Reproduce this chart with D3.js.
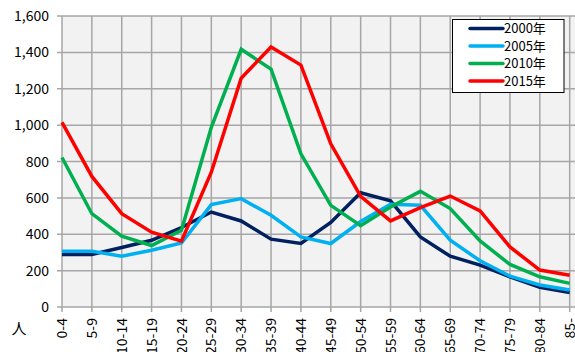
<!DOCTYPE html>
<html>
<head>
<meta charset="utf-8">
<script src="https://cdn.jsdelivr.net/npm/d3@7"></script>
<style>
  html, body { margin: 0; padding: 0; background: #fff; }
  svg { display: block; }
  text { font-family: "Noto Sans CJK JP", "DejaVu Sans", sans-serif; fill: #000; }
</style>
</head>
<body>
<svg id="chart" width="575" height="352"></svg>
<script>
// Age groups along the horizontal axis
const categories = ["0-4","5-9","10-14","15-19","20-24","25-29","30-34","35-39","40-44",
  "45-49","50-54","55-59","60-64","65-69","70-74","75-79","80-84","85-"];

// Population by age group (persons) for each census year
const v2000 = [289, 289, 327, 367, 437, 522, 473, 373, 349, 465, 628, 584, 385, 279, 230, 166, 108, 80];
const v2005 = [307, 307, 279, 312, 352, 563, 596, 504, 385, 349, 470, 565, 559, 367, 254, 170, 121, 93];
const v2010 = [822, 513, 389, 338, 422, 988, 1417, 1308, 842, 559, 447, 550, 636, 541, 363, 234, 166, 130];
const v2015 = [1015, 718, 513, 411, 362, 741, 1258, 1430, 1330, 897, 608, 473, 546, 610, 528, 330, 203, 175];

const seriesNames = ["2000年", "2005年", "2010年", "2015年"];
const seriesColors = ["#002060", "#00b0f0", "#00b050", "#ff0000"];
const seriesValues = [v2000, v2005, v2010, v2015];

const yTicks = [0, 200, 400, 600, 800, 1000, 1200, 1400, 1600];

const svg = d3.select("#chart");
const plotL = 62, plotR = 569.7, plotT = 16, plotB = 307;

const x = d3.scalePoint().domain(categories).range([plotL, plotR]);
const y = d3.scaleLinear().domain([0, 1600]).range([plotB, plotT]);

// plot background
svg.append("rect")
  .attr("x", plotL).attr("y", plotT)
  .attr("width", 575 - plotL).attr("height", plotB - plotT)
  .attr("fill", "#f2f2f2");

const gridColor = "#a6a6a6";

// horizontal gridlines with short ticks to the left
svg.append("g").selectAll("line").data(yTicks).join("line")
  .attr("x1", plotL - 5).attr("x2", 575)
  .attr("y1", d => y(d)).attr("y2", d => y(d))
  .attr("stroke", gridColor).attr("stroke-width", 1.5);

// vertical gridlines with short ticks below
svg.append("g").selectAll("line").data(categories).join("line")
  .attr("x1", d => x(d)).attr("x2", d => x(d))
  .attr("y1", plotT).attr("y2", plotB + 5)
  .attr("stroke", gridColor).attr("stroke-width", 1.5);

// y axis labels
const yFmt = d3.format(",");
svg.append("g").selectAll("text").data(yTicks).join("text")
  .attr("x", 49).attr("y", d => y(d))
  .attr("dy", "0.36em")
  .attr("text-anchor", "end")
  .attr("font-size", 14)
  .text(d => yFmt(d));

// x axis labels, rotated
svg.append("g").selectAll("text").data(categories).join("text")
  .attr("transform", d => `translate(${x(d)},318) rotate(-90)`)
  .attr("dy", "0.36em")
  .attr("text-anchor", "end")
  .attr("font-size", 14)
  .text(d => d);

// unit label
svg.append("text")
  .attr("x", 19).attr("y", 329)
  .attr("dy", "0.36em")
  .attr("text-anchor", "middle")
  .attr("font-size", 15)
  .text("人");

// series lines
const line = d3.line()
  .x((d, i) => x(categories[i]))
  .y(d => y(d));

seriesValues.forEach((vals, i) => {
  svg.append("path")
    .attr("d", line(vals))
    .attr("fill", "none")
    .attr("stroke", seriesColors[i])
    .attr("stroke-width", 3.5)
    .attr("stroke-linejoin", "miter");
});

// legend
const lg = svg.append("g");
lg.append("rect")
  .attr("x", 452.5).attr("y", 19.5)
  .attr("width", 111.5).attr("height", 73)
  .attr("fill", "#fff").attr("stroke", "#000").attr("stroke-width", 1);

seriesNames.forEach((name, i) => {
  const ly = 28.5 + i * 17.5;
  lg.append("line")
    .attr("x1", 470).attr("x2", 503)
    .attr("y1", ly).attr("y2", ly)
    .attr("stroke", seriesColors[i]).attr("stroke-width", 3.5)
    .attr("stroke-linecap", "round");
  lg.append("text")
    .attr("x", 504).attr("y", ly)
    .attr("dy", "0.36em")
    .attr("font-size", 13)
    .text(name);
});
</script>
</body>
</html>
